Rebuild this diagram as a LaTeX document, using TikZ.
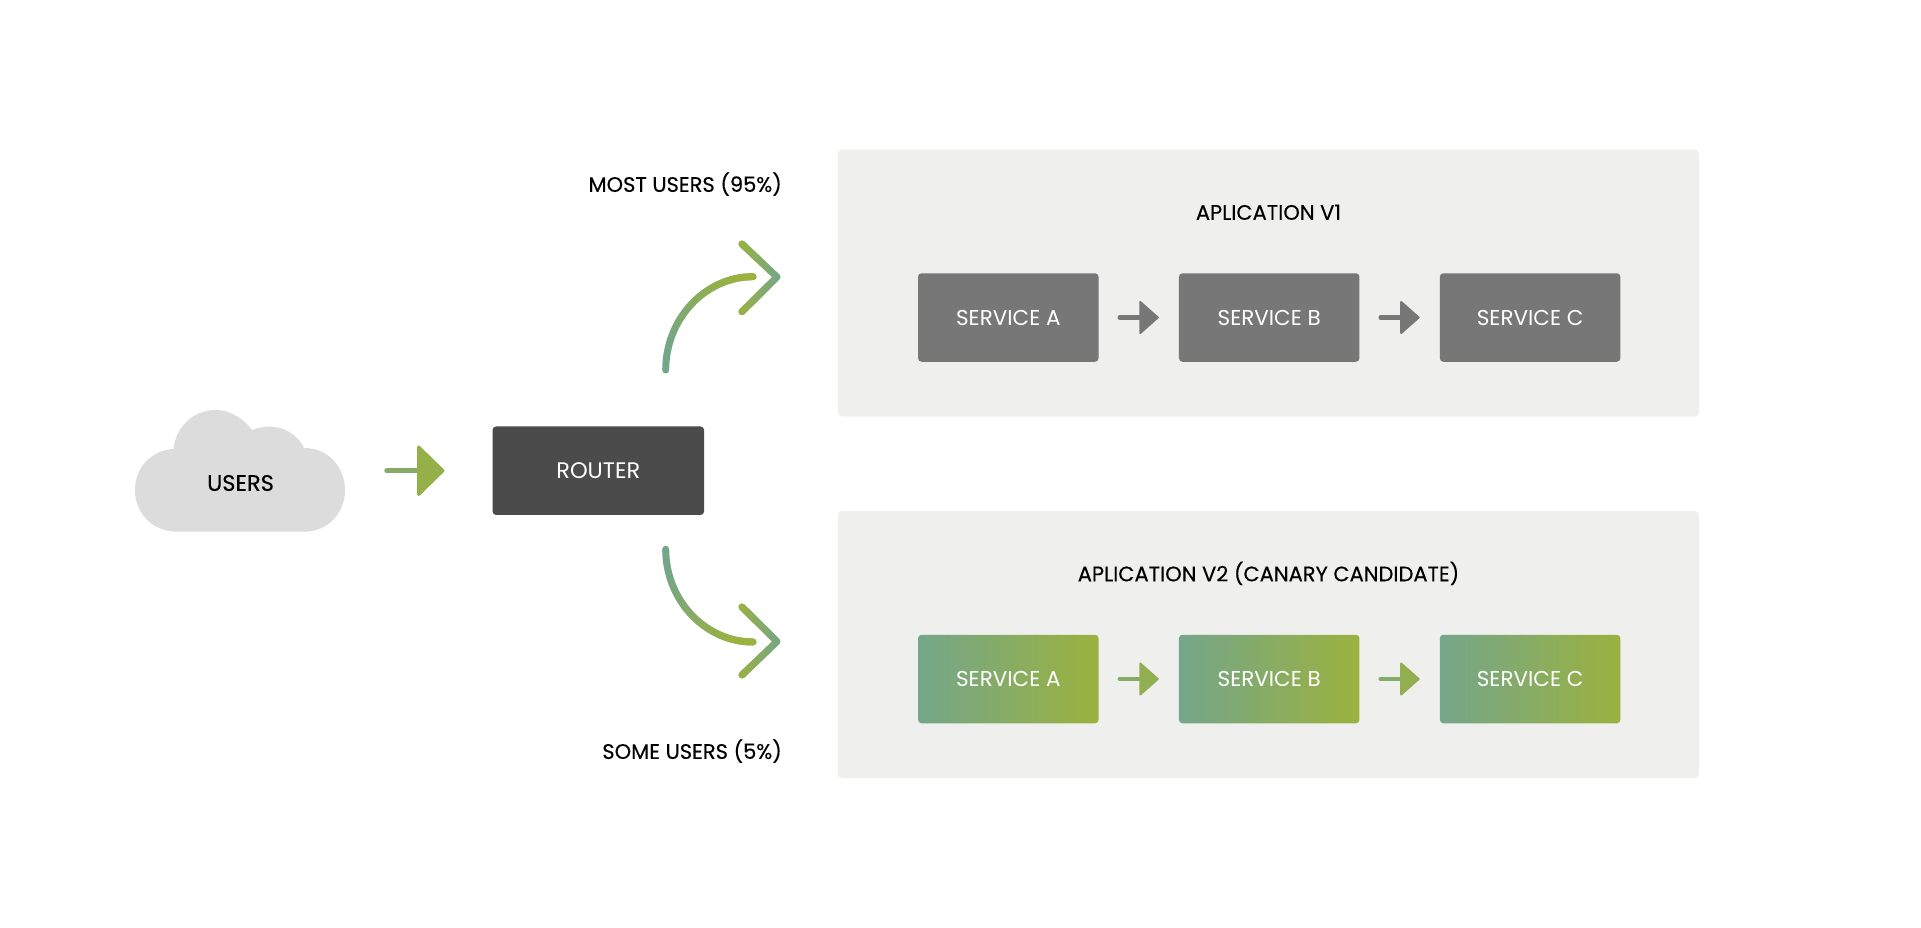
\documentclass[tikz,border=0pt]{standalone}
\usepackage{fontspec}
\setmainfont{Poppins}
\newfontfamily\labelfont[FakeBold=0.25]{Poppins}
\usetikzlibrary{positioning,arrows.meta,fadings}

\definecolor{sage}{HTML}{74A68A}
\definecolor{leaf}{HTML}{9BB23E}
\definecolor{panelgrey}{HTML}{EFEFED}
\definecolor{cloudgrey}{HTML}{DCDCDC}
\definecolor{routergrey}{HTML}{4B4B4B}
\definecolor{servicegrey}{HTML}{777777}
\tikzfading[name=arcfade,left color=transparent!100,right color=transparent!0]

\tikzstyle{label} = [font=\labelfont\fontsize{21}{25}\selectfont, text=black, inner sep=0pt]
\tikzstyle{panel} = [rectangle, rounded corners=4pt, minimum width=861pt, minimum height=267pt, fill=panelgrey]
\tikzstyle{box} = [rectangle, rounded corners=3.5pt, minimum width=180.5pt, minimum height=88.5pt, text=white, font=\fontsize{21.5}{25}\selectfont, inner sep=0pt]
\tikzstyle{oldbox} = [box, fill=servicegrey]
\tikzstyle{newbox} = [box, left color=sage, right color=leaf]
\tikzstyle{step arrow} = [line width=4.5pt, line cap=round, shorten <=21pt, shorten >=20pt]
\tikzstyle{oldarrow} = [step arrow, draw=servicegrey, -{Triangle[length=20pt,width=35pt,round,line width=2pt,color=servicegrey,fill=servicegrey]}]
\tikzstyle{newarrow} = [step arrow, draw=leaf!45!sage, -{Triangle[length=20pt,width=35pt,round,line width=2pt,color=leaf!75!sage,fill=leaf!75!sage]}]
\tikzstyle{inarrow} = [line width=5.5pt, line cap=round, draw=leaf!45!sage, -{Triangle[length=28pt,width=54pt,round,line width=3pt,color=leaf!85!sage,fill=leaf!85!sage]}]
\tikzstyle{curve} = [line width=7pt, line cap=round, draw=sage]
\tikzstyle{chevron} = [line width=7pt, line cap=round, line join=round, draw=sage, postaction={draw=leaf, path fading=arcfade, fading angle=180}]

\begin{document}
\begin{tikzpicture}[x=1pt,y=1pt]
    \useasboundingbox (0,0) rectangle (1921,-927);
    % users cloud
    \fill[cloudgrey] (177.5,-531.7)
        .. controls (152,-531.7) and (135,-513) .. (135,-490)
        .. controls (135,-467) and (152,-450) .. (173.5,-449)
        .. controls (176,-426) and (194,-410) .. (215.5,-410)
        .. controls (231,-410) and (245,-420) .. (252,-430)
        .. controls (275,-421) and (296,-431) .. (304,-448)
        .. controls (328,-448) and (345,-467) .. (345,-490)
        .. controls (345,-513) and (328,-531.7) .. (304,-531.7) -- cycle;
    \node[label, font=\labelfont\fontsize{22.5}{25}\selectfont] (users) at (240.5,-483) {USERS};
    \node[box, minimum width=211.5pt, fill=routergrey, font=\fontsize{22.5}{25}\selectfont] (router) at (598.3,-470.7) {\raisebox{-1pt}{ROUTER}\hspace{3.5pt}};

    \node[panel] (vone) at (1268.5,-283) {};
    \node[panel] (vtwo) at (1268.5,-644.5) {};
    \node[label, anchor=base, yshift=-70.5pt] at (vone.north) (vonetitle) {APLICATION V1};
    \node[label, anchor=base, yshift=-70.5pt] at (vtwo.north) (vtwotitle) {APLICATION V2 (CANARY CANDIDATE)};

    \node[oldbox] (aone) at (1008.3,-317.5) {SERVICE A};
    \node[oldbox, right=80pt of aone] (bone) {SERVICE B};
    \node[oldbox, right=80pt of bone] (cone) {SERVICE C};
    \node[newbox] (atwo) at (1008.3,-679) {SERVICE A};
    \node[newbox, right=80pt of atwo] (btwo) {SERVICE B};
    \node[newbox, right=80pt of btwo] (ctwo) {SERVICE C};

    \draw[oldarrow] (aone.east) -- (bone.west);
    \draw[oldarrow] (bone.east) -- (cone.west);
    \draw[newarrow] (atwo.east) -- (btwo.west);
    \draw[newarrow] (btwo.east) -- (ctwo.west);

    \coordinate (usersout) at (387,-470.7);
    \coordinate (routerin) at (444.5,-470.7);
    \draw[inarrow] (usersout) -- (routerin);

    % split towards the two versions
    \coordinate (upfrom) at (665.7,-370);
    \coordinate (upto) at (753,-276.7);
    \coordinate (upa) at (742,-244);
    \coordinate (uptip) at (777,-277);
    \coordinate (upb) at (742,-311.7);
    \draw[curve, postaction={draw=leaf, path fading=arcfade, fading angle=45}] (upfrom) .. controls (665.7,-319) and (705,-276.7) .. (upto);
    \draw[chevron] (upa) -- (uptip) -- (upb);

    \coordinate (downfrom) at (665.7,-549.3);
    \coordinate (downto) at (753,-642);
    \coordinate (downa) at (742,-607);
    \coordinate (downtip) at (777,-641.5);
    \coordinate (downb) at (742,-675);
    \draw[curve, postaction={draw=leaf, path fading=arcfade, fading angle=-45}] (downfrom) .. controls (665.7,-600) and (705,-642) .. (downto);
    \draw[chevron] (downa) -- (downtip) -- (downb);

    \node[label, anchor=east] (most) at (782,-184) {MOST USERS (95\%)};
    \node[label, anchor=east] (some) at (782,-751) {SOME USERS (5\%)};
\end{tikzpicture}
\end{document}
